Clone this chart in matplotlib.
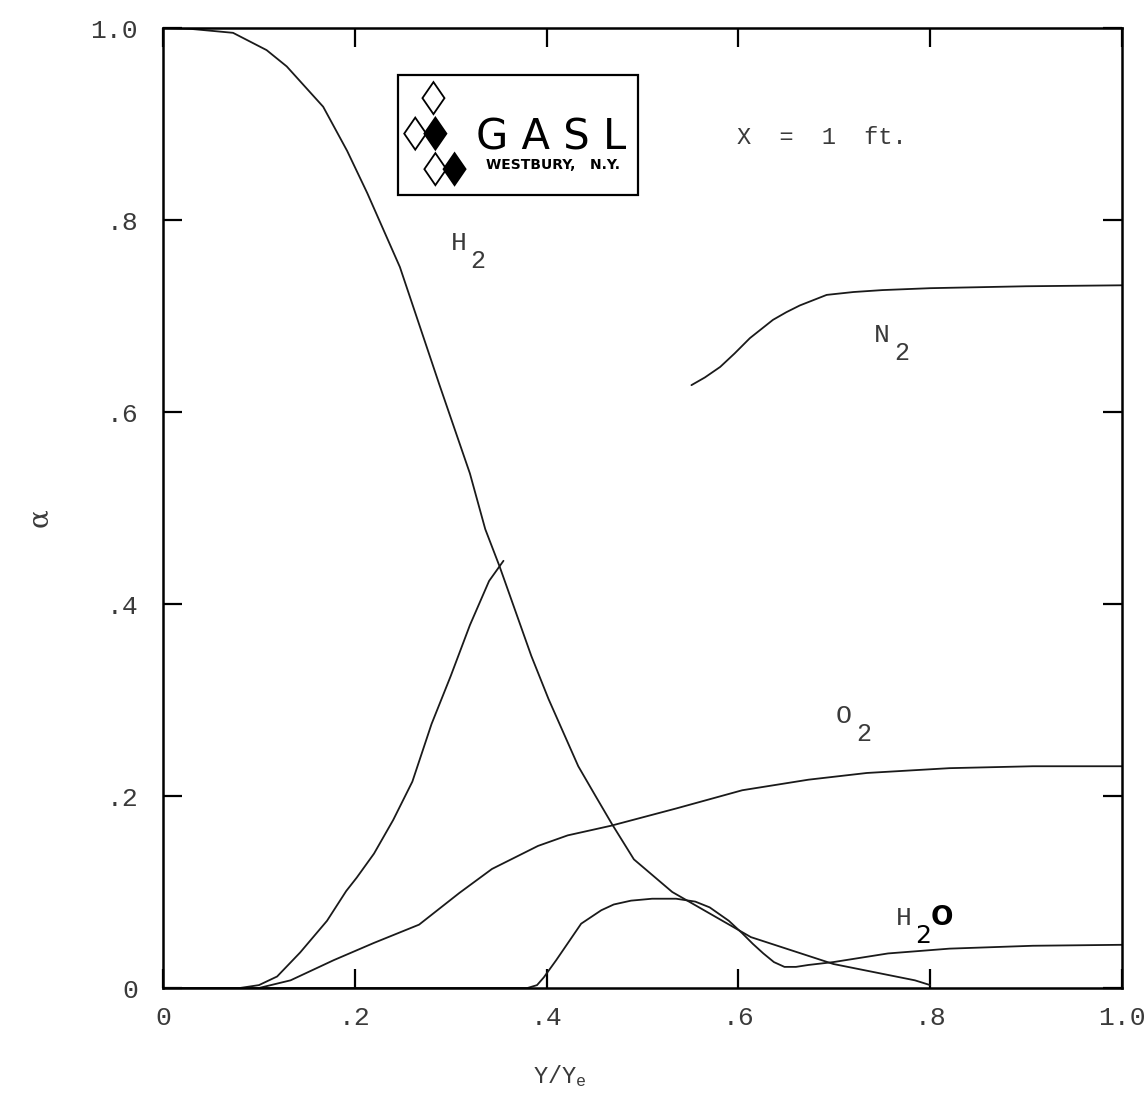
from matplotlib import pyplot as plt
from matplotlib.patches import Polygon, Rectangle

# mass fraction profiles, X = 1 ft.
h2_y = [0.0, 0.03, 0.073, 0.108, 0.129, 0.167, 0.192, 0.213, 0.247, 0.288, 0.32,
        0.336, 0.351, 0.384, 0.402, 0.433, 0.451, 0.468, 0.491, 0.531, 0.613,
        0.699, 0.784, 0.80]
h2_a = [1.0, 0.999, 0.995, 0.977, 0.96, 0.918, 0.872, 0.828, 0.751, 0.629, 0.536,
        0.478, 0.439, 0.346, 0.301, 0.231, 0.2, 0.171, 0.134, 0.1, 0.053,
        0.025, 0.008, 0.003]

rise_y = [0.08, 0.10, 0.119, 0.143, 0.171, 0.191, 0.202, 0.22, 0.24, 0.26, 0.28,
          0.30, 0.32, 0.34, 0.355]
rise_a = [0.0, 0.003, 0.012, 0.037, 0.07, 0.101, 0.115, 0.14, 0.175, 0.215, 0.275,
          0.325, 0.378, 0.424, 0.445]

o2_y = [0.0, 0.10, 0.133, 0.178, 0.22, 0.267, 0.309, 0.343, 0.371, 0.391, 0.422,
        0.467, 0.535, 0.604, 0.673, 0.734, 0.82, 0.907, 1.0]
o2_a = [0.0, 0.0, 0.008, 0.029, 0.047, 0.066, 0.099, 0.124, 0.138, 0.148, 0.159,
        0.169, 0.187, 0.206, 0.217, 0.224, 0.229, 0.231, 0.231]

h2o_y = [0.0, 0.38, 0.39, 0.397, 0.41, 0.436, 0.457, 0.47, 0.488, 0.51, 0.535,
         0.555, 0.57, 0.59, 0.604, 0.615, 0.626, 0.637, 0.648, 0.66, 0.673,
         0.699, 0.756, 0.82, 0.907, 1.0]
h2o_a = [0.0, 0.0, 0.003, 0.011, 0.029, 0.067, 0.081, 0.087, 0.091, 0.093, 0.093,
         0.09, 0.084, 0.07, 0.057, 0.046, 0.036, 0.027, 0.022, 0.022, 0.024,
         0.027, 0.036, 0.041, 0.044, 0.045]

n2_y = [0.551, 0.565, 0.581, 0.596, 0.612, 0.636, 0.65, 0.664, 0.692, 0.72, 0.75,
        0.8, 0.9, 1.0]
n2_a = [0.628, 0.636, 0.647, 0.661, 0.677, 0.696, 0.704, 0.711, 0.722, 0.725,
        0.727, 0.729, 0.731, 0.732]

x_ticks = [0.0, 0.2, 0.4, 0.6, 0.8, 1.0]
x_tick_labels = ["0", ".2", ".4", ".6", ".8", "1.0"]
y_ticks = [0.0, 0.2, 0.4, 0.6, 0.8, 1.0]
y_tick_labels = ["0", ".2", ".4", ".6", ".8", "1.0"]

MONO = "Liberation Mono"
TEXT_COLOR = "#3a3a3a"


def species_label(ax, x, y, sym, sub, sub_font=None, bold_tail=None):
    # letter in typewriter type, subscript dropped well below it
    ax.text(x, y, sym, fontsize=19, family=MONO, color=TEXT_COLOR,
            ha="center", va="center")
    sub_kw = dict(fontsize=18, family=MONO, color=TEXT_COLOR)
    if sub_font:
        sub_kw = dict(fontsize=18, family=sub_font, color="black")
    ax.annotate(sub, (x, y), xytext=(14, -13), textcoords="offset points",
                ha="center", va="center", **sub_kw)
    if bold_tail:
        ax.annotate(bold_tail, (x, y), xytext=(27.5, 0), textcoords="offset points",
                    ha="center", va="center", fontsize=19, family="DejaVu Sans",
                    fontweight="bold", color="black")


def draw_logo(ax):
    # GASL company stamp in the upper left of the plot
    ax.add_patch(Rectangle((0.245, 0.826), 0.25, 0.125, fill=False,
                           edgecolor="black", linewidth=1.6, zorder=5))
    hw, hh = 0.0115, 0.0167
    diamonds = [
        (0.282, 0.927, False),
        (0.263, 0.890, False),
        (0.284, 0.890, True),
        (0.284, 0.853, False),
        (0.304, 0.853, True),
    ]
    for cx, cy, filled in diamonds:
        pts = [(cx, cy + hh), (cx + hw, cy), (cx, cy - hh), (cx - hw, cy)]
        ax.add_patch(Polygon(pts, closed=True, facecolor="black" if filled else "white",
                             edgecolor="black", linewidth=1.3, zorder=6))
    ax.text(0.405, 0.886, "G A S L", fontsize=30, family="DejaVu Sans",
            ha="center", va="center", color="black", zorder=6)
    ax.text(0.407, 0.857, "WESTBURY,   N.Y.", fontsize=10, family="DejaVu Sans",
            fontweight="bold", ha="center", va="center", color="black", zorder=6)


def main():
    plt.rcParams["mathtext.default"] = "regular"
    fig = plt.figure(figsize=(11.44, 10.99), dpi=100)
    ax = fig.add_axes([0.1425, 0.101, 0.8383, 0.8735])

    line_kw = dict(color="#1a1a1a", linewidth=1.3, solid_capstyle="round",
                   solid_joinstyle="round")
    ax.plot(h2_y, h2_a, **line_kw)
    ax.plot(rise_y, rise_a, **line_kw)
    ax.plot(o2_y, o2_a, **line_kw)
    ax.plot(h2o_y, h2o_a, **line_kw)
    ax.plot(n2_y, n2_a, **line_kw)

    ax.set_xlim(0, 1)
    ax.set_ylim(0, 1)
    ax.set_xticks(x_ticks)
    ax.set_xticklabels(x_tick_labels)
    ax.set_yticks(y_ticks)
    ax.set_yticklabels(y_tick_labels)
    ax.tick_params(direction="in", length=14, width=1.6, top=True, right=True,
                   labelsize=19, labelcolor=TEXT_COLOR)
    ax.tick_params(axis="x", pad=13)
    ax.tick_params(axis="y", pad=18)
    for lab in ax.get_xticklabels() + ax.get_yticklabels():
        lab.set_family(MONO)
    for spine in ax.spines.values():
        spine.set_linewidth(1.8)

    ax.set_xlabel("Y/Y$_e$", fontsize=17, family=MONO, color=TEXT_COLOR)
    ax.xaxis.set_label_coords(0.414, -0.078)
    ax.set_ylabel("α", fontsize=20, family="DejaVu Serif", color=TEXT_COLOR)
    ax.yaxis.set_label_coords(-0.115, 0.49)

    species_label(ax, 0.308, 0.776, "H", "2")
    species_label(ax, 0.750, 0.680, "N", "2")
    species_label(ax, 0.710, 0.283, "O", "2")
    species_label(ax, 0.772, 0.073, "H", "2", sub_font="DejaVu Sans", bold_tail="O")
    ax.text(0.598, 0.886, "X  =  1  ft.", fontsize=17, family=MONO,
            color=TEXT_COLOR, va="center")

    draw_logo(ax)

    fig.savefig("out.png", dpi=100)
    plt.close(fig)


if __name__ == "__main__":
    main()
